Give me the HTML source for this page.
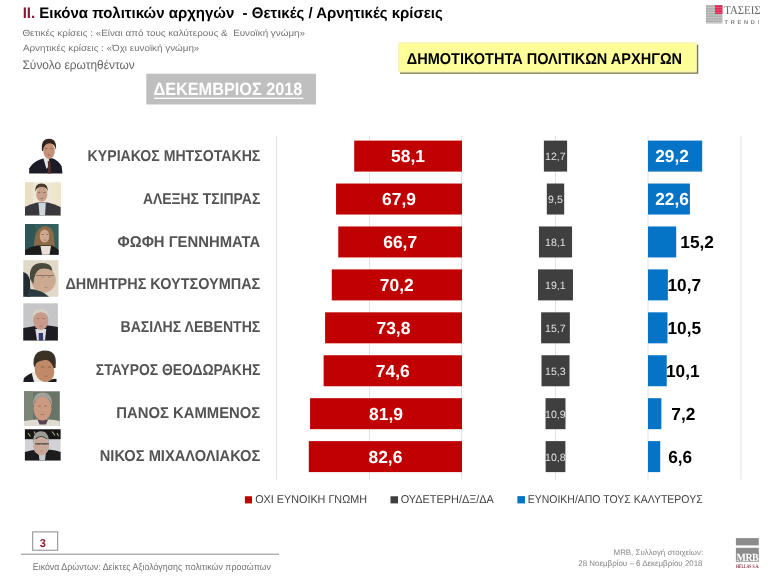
<!DOCTYPE html>
<html><head><meta charset="utf-8"><style>
html,body{margin:0;padding:0;background:#fff;}
svg{display:block;will-change:transform;}
</style></head><body>
<svg width="768" height="576" viewBox="0 0 768 576" font-family="Liberation Sans" text-rendering="geometricPrecision">
<defs><filter id="bl" x="-10%" y="-10%" width="120%" height="120%"><feGaussianBlur stdDeviation="0.6"/></filter></defs>
<rect x="146.30" y="73.70" width="169.70" height="30.80" fill="#bfbfbf" />
<rect x="154.10" y="97.60" width="149.20" height="1.40" fill="#fff" />
<rect x="400.00" y="44.80" width="298.30" height="29.00" fill="#7c7c52" />
<rect x="398.30" y="42.50" width="298.40" height="29.80" fill="#ffff99" />
<rect x="398.80" y="43.00" width="297.40" height="28.80" fill="none" stroke="#f0f0c0" stroke-width="1"/>
<rect x="276.00" y="135.80" width="1.00" height="343.70" fill="#e2e2e2" />
<rect x="369.00" y="135.80" width="1.00" height="343.70" fill="#e2e2e2" />
<rect x="461.00" y="135.80" width="1.00" height="343.70" fill="#e2e2e2" />
<rect x="555.00" y="135.80" width="1.00" height="343.70" fill="#e2e2e2" />
<rect x="647.50" y="135.80" width="1.00" height="343.70" fill="#e2e2e2" />
<rect x="740.50" y="135.80" width="1.00" height="343.70" fill="#e2e2e2" />
<rect x="354.22" y="140.60" width="107.78" height="31.00" fill="#c00000" />
<rect x="543.88" y="140.60" width="23.24" height="31.00" fill="#3f3f3f" />
<rect x="648.00" y="140.60" width="54.17" height="31.00" fill="#0573c6" />
<rect x="336.05" y="183.53" width="125.95" height="31.00" fill="#c00000" />
<rect x="546.81" y="183.53" width="17.38" height="31.00" fill="#3f3f3f" />
<rect x="648.00" y="183.53" width="41.92" height="31.00" fill="#0573c6" />
<rect x="338.27" y="226.46" width="123.73" height="31.00" fill="#c00000" />
<rect x="538.94" y="226.46" width="33.12" height="31.00" fill="#3f3f3f" />
<rect x="648.00" y="226.46" width="28.20" height="31.00" fill="#0573c6" />
<rect x="331.78" y="269.39" width="130.22" height="31.00" fill="#c00000" />
<rect x="538.02" y="269.39" width="34.95" height="31.00" fill="#3f3f3f" />
<rect x="648.00" y="269.39" width="19.85" height="31.00" fill="#0573c6" />
<rect x="325.10" y="312.32" width="136.90" height="31.00" fill="#c00000" />
<rect x="541.13" y="312.32" width="28.73" height="31.00" fill="#3f3f3f" />
<rect x="648.00" y="312.32" width="19.48" height="31.00" fill="#0573c6" />
<rect x="323.62" y="355.25" width="138.38" height="31.00" fill="#c00000" />
<rect x="541.50" y="355.25" width="28.00" height="31.00" fill="#3f3f3f" />
<rect x="648.00" y="355.25" width="18.74" height="31.00" fill="#0573c6" />
<rect x="310.08" y="398.18" width="151.92" height="31.00" fill="#c00000" />
<rect x="545.53" y="398.18" width="19.95" height="31.00" fill="#3f3f3f" />
<rect x="648.00" y="398.18" width="13.36" height="31.00" fill="#0573c6" />
<rect x="308.78" y="441.11" width="153.22" height="31.00" fill="#c00000" />
<rect x="545.62" y="441.11" width="19.76" height="31.00" fill="#3f3f3f" />
<rect x="648.00" y="441.11" width="12.24" height="31.00" fill="#0573c6" />
<rect x="244.90" y="496.25" width="7.10" height="7.15" fill="#c00000" />
<rect x="390.50" y="496.25" width="7.50" height="7.15" fill="#3f3f3f" />
<rect x="517.40" y="496.10" width="7.60" height="7.30" fill="#0573c6" />
<rect x="32.70" y="531.90" width="25.00" height="18.30" fill="#fff" stroke="#8a8a8a" stroke-width="1"/>
<rect x="21.00" y="553.60" width="258.00" height="1.30" fill="#a6a6a6" />
<g filter="url(#bl)">
<path d="M29.1 173.4 L29.3 168.2 Q33 162 40 159.5 L44 158.3 L52.5 158.3 Q58 160 61.7 166.5 L62.5 173.4 Z" fill="#1c1e28"/>
<path d="M43.2 157.8 L48.8 157.6 L49.5 165 L46.5 169 Z" fill="#e6e2e2"/>
<path d="M47.8 161 L50.3 161 L51 173.4 L48.2 173.4 Z" fill="#5a3030"/>
<ellipse cx="49" cy="150.8" rx="5.8" ry="8.2" fill="#c49078"/>
<path d="M42 151 Q40.5 138.7 49 138.7 Q57 138.7 56 150 Q55 144 50 143.2 Q44 143 43 151 Z" fill="#30241e"/>
<rect x="25" y="182.4" width="35.8" height="33.2" fill="#efe7d6"/>
<rect x="25" y="182.4" width="8" height="33.2" fill="#eadfc4"/>
<rect x="52" y="182.4" width="8.8" height="33.2" fill="#efe4cc"/>
<path d="M25 215.6 L25 207 Q30 204 37 202.4 L48 202.4 Q55 204 60.6 207 L60.6 215.6 Z" fill="#38383c"/>
<path d="M38.5 203 L45.8 203 L45 215.6 L39.5 215.6 Z" fill="#cdd4dc"/>
<ellipse cx="41.8" cy="194.2" rx="5.6" ry="7.6" fill="#c8a08a"/>
<path d="M35.2 192 Q34.6 183.6 41.5 183.6 Q48.3 183.6 47.8 192 Q47 187 41.8 186.8 Q36.5 187 35.2 192 Z" fill="#4a3a2c"/>
<rect x="25" y="224" width="33.6" height="30.7" fill="#365e5e"/>
<rect x="25" y="224" width="10" height="30.7" fill="#2e5656"/>
<path d="M34 249 Q33.5 228 44.5 226 Q54 226.5 54 238 L55 249 Z" fill="#8a6a48"/>
<path d="M25 254.7 L25 250 Q30 246.5 37 245.5 L52 245.5 Q56 247 58.6 250 L58.6 254.7 Z" fill="#1c1c1c"/>
<path d="M40.5 246 L51 246 L49.5 254.7 L42 254.7 Z" fill="#e8e0d8"/>
<ellipse cx="44.5" cy="236" rx="4.8" ry="6.6" fill="#d0a890"/>
<rect x="23.3" y="260.2" width="35.1" height="36.5" fill="#e0d8c8"/>
<ellipse cx="43.5" cy="280" rx="12.3" ry="12.8" fill="#ccaa92"/>
<path d="M30 279 Q28.5 263.1 42 263.1 Q52 263.1 52.5 271 Q47 267.5 40 269 Q34 272 33.5 284 Z" fill="#4a4a3c"/>
<path d="M36 275.5 H54" stroke="#7a6a5a" stroke-width="0.8"/>
<path d="M23.3 272 Q28 273 30 280 L30.5 296.7 L23.3 296.7 Z" fill="#202a30"/>
<path d="M27 296.7 L29 289 Q36 289 44 293 L49 296.7 Z" fill="#2a3a40"/>
<rect x="23.3" y="303.3" width="34.6" height="37.2" fill="#c6c6c8"/>
<path d="M23.3 340.5 L23.3 328 Q30 327 35 326 L48 325.5 Q54 326 57.9 327 L57.9 340.5 Z" fill="#1e1e22"/>
<path d="M35.3 329 L46.3 329 L45 340.5 L37 340.5 Z" fill="#dcdce2"/>
<path d="M38.6 333 L43 333 L43.2 340.5 L38.8 340.5 Z" fill="#303a70"/>
<ellipse cx="40.8" cy="320.5" rx="7.6" ry="9.4" fill="#c89a8a"/>
<path d="M32.2 320 Q31.7 308.8 40.5 308.8 Q49.5 308.8 49.2 319 Q47.5 312.5 40.8 312.3 Q34 312.5 32.2 320 Z" fill="#d6d0c4"/>
<path d="M23.3 382.1 L24 378 Q29 374 33 372.3 L40 382.1 Z" fill="#1a1a20"/>
<path d="M31.5 372.5 L35 371.5 L41 382.1 L34 382.1 Z" fill="#ece8e2"/>
<path d="M47 382.1 Q52 378 56.5 379 L56.5 382.1 Z" fill="#1a1a20"/>
<path d="M33.6 365 Q32.5 350.4 45 350.4 Q56 350.6 55.8 362 L55.5 368 L36 370 Z" fill="#3a3028"/>
<ellipse cx="44.5" cy="370.5" rx="9.6" ry="11.6" transform="rotate(-18 44.5 370.5)" fill="#c08a68"/>
<path d="M35 364 Q38 356.5 46 357 Q53 357.5 55.5 364 Q50 359.5 45 360 Q39 360.5 35 364 Z" fill="#3a3028"/>
<rect x="24" y="391.3" width="35.8" height="34.7" fill="#687466"/>
<rect x="24" y="391.3" width="9" height="34.7" fill="#7a8676"/>
<path d="M24 426 L24 421 Q32 419.4 37 419.4 L48 419.4 Q55 419.4 59.8 421 L59.8 426 Z" fill="#e0dcd4"/>
<path d="M37.5 419.5 L48 419.5 L46 424.5 L39.5 424.5 Z" fill="#5a4450"/>
<ellipse cx="42.5" cy="408.5" rx="9" ry="12" fill="#cc9a80"/>
<path d="M33.1 406 Q32.5 392.4 42.6 392.4 Q52.6 392.4 52.1 406 Q50 397 42.6 396.8 Q35.5 397 33.1 406 Z" fill="#a2a29a"/>
<rect x="24.9" y="429.3" width="35.7" height="31.3" fill="#d2d2d6"/>
<rect x="24.9" y="429.3" width="35.7" height="9.9" fill="#161616"/>
<path d="M28 433 l2.5 3.5 M34 431.5 l2 4 M44 432 l2 3.5 M52 431.5 l3 4 M57 433 l1.5 3" stroke="#b0a880" stroke-width="1.1"/>
<path d="M24.9 460.6 L24.9 452 Q31 450 36 449.7 L50 449.7 Q56 450 60.6 452 L60.6 460.6 Z" fill="#1a1a1e"/>
<path d="M38.5 452 L46 452 L45 460.6 L39.5 460.6 Z" fill="#c8ccd0"/>
<ellipse cx="41.2" cy="446" rx="8" ry="9.2" fill="#c8a898"/>
<path d="M32.9 444 Q32.5 431.3 41 431.3 Q49.4 431.3 49 444 Q47.5 436.5 41.2 436.3 Q35 436.5 32.9 444 Z" fill="#9a9a98"/>
<path d="M35 443.8 H49" stroke="#4a4a4a" stroke-width="1.2"/>
<ellipse cx="46.20" cy="148.50" rx="1.30" ry="0.6" fill="#5a3a30" opacity="0.55"/><ellipse cx="51.40" cy="148.50" rx="1.30" ry="0.6" fill="#5a3a30" opacity="0.55"/><ellipse cx="48.80" cy="155.00" rx="1.43" ry="0.5" fill="#5a3a30" opacity="0.44"/>
<ellipse cx="39.20" cy="192.50" rx="1.40" ry="0.6" fill="#5a3a30" opacity="0.55"/><ellipse cx="44.40" cy="192.50" rx="1.40" ry="0.6" fill="#5a3a30" opacity="0.55"/><ellipse cx="41.80" cy="198.50" rx="1.54" ry="0.5" fill="#5a3a30" opacity="0.44"/>
<ellipse cx="42.70" cy="234.50" rx="1.30" ry="0.6" fill="#5a3a30" opacity="0.55"/><ellipse cx="47.30" cy="234.50" rx="1.30" ry="0.6" fill="#5a3a30" opacity="0.55"/><ellipse cx="45.00" cy="240.00" rx="1.43" ry="0.5" fill="#5a3a30" opacity="0.44"/>
<ellipse cx="42.50" cy="277.00" rx="1.80" ry="0.6" fill="#6a5040" opacity="0.4"/><ellipse cx="49.50" cy="277.00" rx="1.80" ry="0.6" fill="#6a5040" opacity="0.4"/><ellipse cx="46.00" cy="287.50" rx="1.98" ry="0.5" fill="#6a5040" opacity="0.32"/>
<ellipse cx="37.80" cy="318.50" rx="1.60" ry="0.6" fill="#6a4a40" opacity="0.45"/><ellipse cx="43.80" cy="318.50" rx="1.60" ry="0.6" fill="#6a4a40" opacity="0.45"/><ellipse cx="40.80" cy="326.00" rx="1.76" ry="0.5" fill="#6a4a40" opacity="0.36"/>
<ellipse cx="42.50" cy="367.00" rx="1.80" ry="0.6" fill="#5a3020" opacity="0.5"/><ellipse cx="49.50" cy="367.00" rx="1.80" ry="0.6" fill="#5a3020" opacity="0.5"/><ellipse cx="46.00" cy="376.00" rx="1.98" ry="0.5" fill="#5a3020" opacity="0.40"/>
<ellipse cx="39.30" cy="406.00" rx="1.70" ry="0.6" fill="#6a4030" opacity="0.5"/><ellipse cx="45.70" cy="406.00" rx="1.70" ry="0.6" fill="#6a4030" opacity="0.5"/><ellipse cx="42.50" cy="414.50" rx="1.87" ry="0.5" fill="#6a4030" opacity="0.40"/>
<ellipse cx="38.50" cy="444.20" rx="1.60" ry="0.6" fill="#4a3a30" opacity="0.35"/><ellipse cx="44.50" cy="444.20" rx="1.60" ry="0.6" fill="#4a3a30" opacity="0.35"/><ellipse cx="41.50" cy="451.00" rx="1.76" ry="0.5" fill="#4a3a30" opacity="0.28"/>
</g>
<rect x="706" y="5.2" width="16.4" height="18.2" fill="#a8a8a8"/>
<path d="M706 7.5 H722.4 M706 10 H722.4 M706 12.5 H722.4 M706 15 H722.4 M706 17.5 H722.4 M706 20 H722.4 M706 22.5 H722.4" stroke="#d4d4d4" stroke-width="0.7"/>
<path d="M708.5 5.2 V23.4 M711 5.2 V23.4 M713.5 5.2 V23.4 M716 5.2 V23.4 M718.5 5.2 V23.4 M721 5.2 V23.4" stroke="#c8c8c8" stroke-width="0.6"/>
<rect x="715" y="5.2" width="7.4" height="8.8" fill="#e0285a"/>
<path d="M715 7.5 H722.4 M715 10 H722.4 M715 12.5 H722.4" stroke="#f06a8a" stroke-width="0.6"/>
<text transform="translate(724.3,14) scale(0.9,1)" font-family="Liberation Serif" font-size="12" fill="#666">ΤΑΣΕΙΣ</text>
<text x="724.6" y="23.6" font-size="5.6" font-weight="bold" fill="#7a7a7a" letter-spacing="2.75">TREND!</text>
<rect x="735.9" y="538.1" width="22.9" height="7.3" fill="#8c8c8c"/>
<rect x="735.9" y="547.8" width="22.9" height="13.9" fill="#8c8c8c"/>
<text transform="translate(736.6,561) scale(0.9,1)" font-family="Liberation Serif" font-size="11" font-weight="bold" fill="#fff" letter-spacing="-0.6">MRB</text>
<text transform="translate(735.9,567.6) scale(0.74,1)" font-family="Liberation Serif" font-size="5.2" font-weight="bold" fill="#8a3444">HELLAS S.A.</text>
<text transform="translate(22.65,18.40) scale(0.9753,1)" font-size="15.36" fill="#000" font-weight="bold"><tspan fill="#8e1838">II.</tspan> Εικόνα πολιτικών αρχηγών  - Θετικές / Αρνητικές κρίσεις</text>
<text transform="translate(22.41,35.80) scale(1.0966,1)" font-size="8.99" fill="#737373">Θετικές κρίσεις : «Είναι από τους καλύτερους &amp;  Ευνοϊκή γνώμη»</text>
<text transform="translate(22.90,50.80) scale(1.0949,1)" font-size="8.99" fill="#737373">Αρνητικές κρίσεις : «Όχι ευνοϊκή γνώμη»</text>
<text transform="translate(22.50,68.80) scale(0.9571,1)" font-size="12.46" fill="#666666">Σύνολο ερωτηθέντων</text>
<text transform="translate(153.45,95.00) scale(0.9127,1)" font-size="17.83" fill="#fff" font-weight="bold">ΔΕΚΕΜΒΡΙΟΣ 2018</text>
<text transform="translate(406.72,64.00) scale(0.9191,1)" font-size="15.80" fill="#000" font-weight="bold">ΔΗΜΟΤΙΚΟΤΗΤΑ ΠΟΛΙΤΙΚΩΝ ΑΡΧΗΓΩΝ</text>
<text transform="translate(87.61,160.65) scale(0.8934,1)" font-size="15.80" fill="#535353" font-weight="bold">ΚΥΡΙΑΚΟΣ ΜΗΤΣΟΤΑΚΗΣ</text>
<text transform="translate(391.09,162.30) scale(0.9998,1)" font-size="17.46" fill="#fff" font-weight="bold">58,1</text>
<text transform="translate(545.00,160.00) scale(1.0023,1)" font-size="10.58" fill="#e0e0e0">12,7</text>
<text transform="translate(655.23,162.30) scale(0.9899,1)" font-size="17.46" fill="#fff" font-weight="bold">29,2</text>
<text transform="translate(142.88,203.58) scale(0.8821,1)" font-size="15.80" fill="#535353" font-weight="bold">ΑΛΕΞΗΣ ΤΣΙΠΡΑΣ</text>
<text transform="translate(382.00,205.23) scale(0.9998,1)" font-size="17.46" fill="#fff" font-weight="bold">67,9</text>
<text transform="translate(548.08,202.93) scale(1.0023,1)" font-size="10.58" fill="#e0e0e0">9,5</text>
<text transform="translate(655.23,205.23) scale(0.9899,1)" font-size="17.46" fill="#fff" font-weight="bold">22,6</text>
<text transform="translate(117.55,246.51) scale(0.9399,1)" font-size="15.80" fill="#535353" font-weight="bold">ΦΩΦΗ ΓΕΝΝΗΜΑΤΑ</text>
<text transform="translate(383.20,248.16) scale(0.9998,1)" font-size="17.46" fill="#fff" font-weight="bold">66,7</text>
<text transform="translate(545.00,245.86) scale(1.0023,1)" font-size="10.58" fill="#e0e0e0">18,1</text>
<text transform="translate(680.36,248.16) scale(0.9899,1)" font-size="17.46" fill="#000" font-weight="bold">15,2</text>
<text transform="translate(65.42,289.44) scale(0.9155,1)" font-size="15.80" fill="#535353" font-weight="bold">ΔΗΜΗΤΡΗΣ ΚΟΥΤΣΟΥΜΠΑΣ</text>
<text transform="translate(379.87,291.09) scale(0.9998,1)" font-size="17.46" fill="#fff" font-weight="bold">70,2</text>
<text transform="translate(545.00,288.79) scale(1.0023,1)" font-size="10.58" fill="#e0e0e0">19,1</text>
<text transform="translate(667.46,291.09) scale(0.9899,1)" font-size="17.46" fill="#000" font-weight="bold">10,7</text>
<text transform="translate(120.52,332.37) scale(0.8906,1)" font-size="15.80" fill="#535353" font-weight="bold">ΒΑΣΙΛΗΣ ΛΕΒΕΝΤΗΣ</text>
<text transform="translate(376.44,334.02) scale(0.9998,1)" font-size="17.46" fill="#fff" font-weight="bold">73,8</text>
<text transform="translate(545.00,331.72) scale(1.0023,1)" font-size="10.58" fill="#e0e0e0">15,7</text>
<text transform="translate(667.46,334.02) scale(0.9899,1)" font-size="17.46" fill="#000" font-weight="bold">10,5</text>
<text transform="translate(95.84,375.30) scale(0.8796,1)" font-size="15.80" fill="#535353" font-weight="bold">ΣΤΑΥΡΟΣ ΘΕΟΔΩΡΑΚΗΣ</text>
<text transform="translate(375.78,376.95) scale(0.9998,1)" font-size="17.46" fill="#fff" font-weight="bold">74,6</text>
<text transform="translate(545.00,374.65) scale(1.0023,1)" font-size="10.58" fill="#e0e0e0">15,3</text>
<text transform="translate(665.96,376.95) scale(0.9899,1)" font-size="17.46" fill="#000" font-weight="bold">10,1</text>
<text transform="translate(116.36,418.23) scale(0.9390,1)" font-size="15.80" fill="#535353" font-weight="bold">ΠΑΝΟΣ ΚΑΜΜΕΝΟΣ</text>
<text transform="translate(369.10,419.88) scale(0.9998,1)" font-size="17.46" fill="#fff" font-weight="bold">81,9</text>
<text transform="translate(545.00,417.58) scale(1.0023,1)" font-size="10.58" fill="#e0e0e0">10,9</text>
<text transform="translate(671.31,419.88) scale(0.9899,1)" font-size="17.46" fill="#000" font-weight="bold">7,2</text>
<text transform="translate(99.77,461.16) scale(0.9285,1)" font-size="15.80" fill="#535353" font-weight="bold">ΝΙΚΟΣ ΜΙΧΑΛΟΛΙΑΚΟΣ</text>
<text transform="translate(368.45,462.81) scale(0.9998,1)" font-size="17.46" fill="#fff" font-weight="bold">82,6</text>
<text transform="translate(545.00,460.51) scale(1.0023,1)" font-size="10.58" fill="#e0e0e0">10,8</text>
<text transform="translate(668.21,462.81) scale(0.9899,1)" font-size="17.46" fill="#000" font-weight="bold">6,6</text>
<text transform="translate(255.16,502.90) scale(0.9444,1)" font-size="11.45" fill="#404040">ΟΧΙ ΕΥΝΟΙΚΗ ΓΝΩΜΗ</text>
<text transform="translate(400.75,502.90) scale(0.9525,1)" font-size="11.45" fill="#404040">ΟΥΔΕΤΕΡΗ/ΔΞ/ΔΑ</text>
<text transform="translate(527.66,502.90) scale(0.9172,1)" font-size="11.45" fill="#404040">ΕΥΝΟΙΚΗ/ΑΠΟ ΤΟΥΣ ΚΑΛΥΤΕΡΟΥΣ</text>
<text transform="translate(39.67,546.75) scale(0.9687,1)" font-size="11.38" fill="#8a1a2a" font-weight="bold">3</text>
<text transform="translate(32.79,569.70) scale(0.9105,1)" font-size="9.71" fill="#747474">Εικόνα Δρώντων: Δείκτες Αξιολόγησης πολιτικών προσώπων</text>
<text transform="translate(613.57,554.90) scale(1.0090,1)" font-size="7.83" fill="#858585">MRB, Συλλογή στοιχείων:</text>
<text transform="translate(578.30,565.65) scale(0.9709,1)" font-size="8.19" fill="#858585">28 Νοεμβρίου – 6 Δεκεμβρίου 2018</text>
</svg>
</body></html>
